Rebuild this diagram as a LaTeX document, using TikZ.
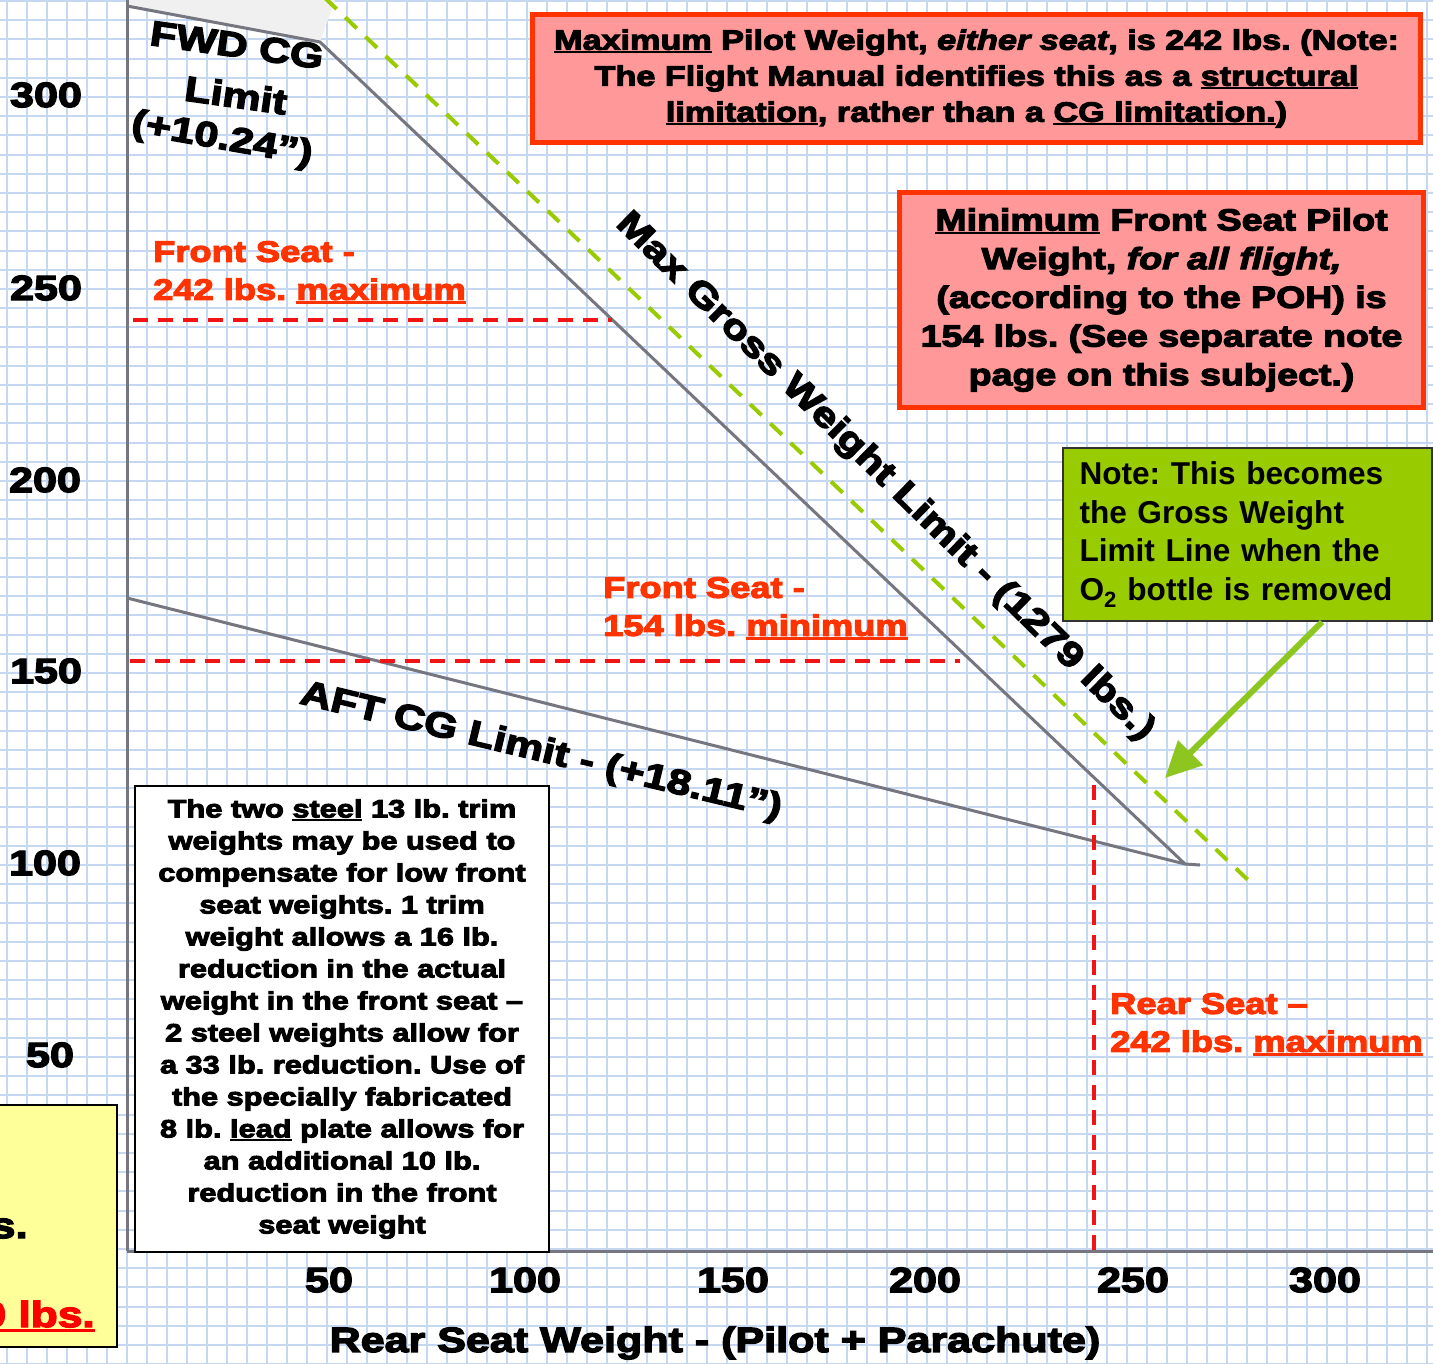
\documentclass[tikz,border=0pt]{standalone}
\usepackage{fontspec}
\usetikzlibrary{arrows.meta,calc}
\newfontfamily\blk{Liberation Sans}[UprightFont={* Bold},ItalicFont={* Bold Italic},FakeStretch=1.23,FakeBold=4]
\newfontfamily\arl{Liberation Sans}
\newcommand\fsz[2]{\fontsize{#1}{#2}\selectfont}
\newsavebox\ulbox
\newcommand\ul[1]{\sbox\ulbox{#1}\rlap{\rule[-0.13em]{\wd\ulbox}{0.08em}}\usebox\ulbox}
\frenchspacing
\definecolor{gridc}{RGB}{198,215,242}
\definecolor{pencil}{RGB}{118,118,128}
\definecolor{redtxt}{RGB}{255,51,0}
\definecolor{dashred}{RGB}{240,20,20}
\definecolor{pinkf}{RGB}{255,153,153}
\definecolor{boxred}{RGB}{255,51,0}
\definecolor{lime}{RGB}{153,204,0}
\definecolor{arrowg}{RGB}{140,198,30}
\definecolor{yel}{RGB}{255,255,153}
\tikzset{
  gridline/.style={draw=gridc, line width=2pt},
  pencilline/.style={draw=pencil, line width=3pt, line join=round},
  reddash/.style={draw=dashred, line width=3.5pt, dash pattern=on 15pt off 10pt},
  greendash/.style={draw=lime, line width=4pt, dash pattern=on 16pt off 12pt},
  pinkbox/.style={draw=boxred, line width=5pt, fill=pinkf, inner sep=0pt, align=center, text=black},
  whitebox/.style={draw=black, line width=2pt, fill=white, inner sep=0pt, align=center},
  notebox/.style={draw=black!80, line width=2pt, fill=lime, inner sep=0pt, align=left},
  axlabel/.style={inner sep=0pt, font=\blk\fsz{35}{40}},
  redlabel/.style={inner sep=0pt, align=left, text=redtxt, font=\blk\fsz{29.5}{38}},
  curvelabel/.style={inner sep=0pt, font=\blk\fsz{35}{40}},
  greenarrow/.style={draw=arrowg, line width=6pt, -{Triangle[length=36pt,width=34pt]}}
}
\begin{document}
\begin{tikzpicture}[x=1pt,y=-1pt]
\useasboundingbox (0,0) rectangle (1433,1364);
\begin{scope}
\clip (0,0) rectangle (1433,1364);
\fill[white] (0,0) rectangle (1433,1364);
% graph paper
\foreach \k in {-6,...,66} { \draw[gridline] ({127+20*\k},0) -- ({127+20*\k},1364); }
\foreach \k in {-6,...,66} { \draw[gridline] (0,{1249-19.2*\k}) -- (1433,{1249-19.2*\k}); }
% pencil shading near top
\fill[gray!12] (127,0) -- (335,0) -- (320,42) -- (127,6) -- cycle;
% axes
\draw[pencilline] (127,0) -- (127,1251);
\draw[pencilline] (127,1251) -- (1433,1251);
% limit lines
\draw[pencilline] (127,6) -- (320,42) -- (1185,864);
\draw[pencilline] (127,598) -- (1185,864) -- (1200,865);
% green dashed line (O2 removed)
\draw[greendash] (325,-2) -- (1248,880);
% red dashed limits
\draw[reddash] (133,320) -- (612,320);
\draw[reddash] (130,661) -- (960,661);
\draw[reddash] (1094,785) -- (1094,1250);

% axis labels
\node[axlabel] (y300) at (46,95) {300};
\node[axlabel] (y250) at (46,288) {250};
\node[axlabel] (y200) at (45,480) {200};
\node[axlabel] (y150) at (46,671) {150};
\node[axlabel] (y100) at (45,863) {100};
\node[axlabel] (y50) at (50,1055) {50};
\node[axlabel] (x50) at (329,1280) {50};
\node[axlabel] (x100) at (525,1280) {100};
\node[axlabel] (x150) at (733,1280) {150};
\node[axlabel] (x200) at (925,1280) {200};
\node[axlabel] (x250) at (1133,1280) {250};
\node[axlabel] (x300) at (1325,1280) {300};
\node[inner sep=0pt, font=\blk\fsz{35}{40}] (xtitle) at (715,1343) {Rear Seat Weight - (Pilot + Parachute)};

% curve labels
\node[curvelabel, rotate=-8] (fwd1) at (237,45) {FWD CG};
\node[curvelabel, rotate=-8] (fwd2) at (236,95) {Limit};
\node[curvelabel, rotate=-10] (fwd3) at (222,140) {(+10.24”)};
\node[curvelabel, rotate=-44.4] (gross) at (885,477) {Max Gross Weight Limit - (1279 lbs.)};
\node[curvelabel, rotate=-13.5] (aft) at (541,752) {AFT CG Limit - (+18.11”)};

% red annotations
\node[redlabel, anchor=north west] (front242) at (153,241) {Front Seat -\\242 lbs. \ul{maximum}};
\node[redlabel, anchor=north west] (front154) at (603,577) {Front Seat -\\154 lbs. \ul{minimum}};
\node[redlabel, anchor=north west] (rear242) at (1110,993) {Rear Seat –\\242 lbs. \ul{maximum}};

% boxes
\node[pinkbox, minimum width=888pt, minimum height=128pt, font=\blk\fsz{27.8}{36}] (maxbox) at (976.5,78.5)
  {\ul{Maximum} Pilot Weight, \textit{either seat}, is 242 lbs. (Note:\\
   The Flight Manual identifies this as a \ul{structural}\\
   \ul{limitation}, rather than a \ul{CG limitation.})};
\node[pinkbox, minimum width=524pt, minimum height=215pt, font=\blk\fsz{30.5}{38.7}] (minbox) at (1161.5,300)
  {\ul{Minimum} Front Seat Pilot\\
   Weight, \textit{for all flight,}\\
   (according to the POH) is\\
   154 lbs. (See separate note\\
   page on this subject.)};
\node[notebox, text width=335pt, minimum width=369pt, minimum height=173pt, font=\arl\bfseries\fsz{31.6}{38.5}] (note) at (1247,534.5)
  {Note: This becomes\\
   the Gross Weight\\
   Limit Line when the\\
   O\textsubscript{2} bottle is removed};
\node[whitebox, minimum width=414pt, minimum height=466pt, font=\blk\fsz{25}{32}] (trim) at (342,1019)
  {The two \ul{steel} 13 lb. trim\\
   weights may be used to\\
   compensate for low front\\
   seat weights. 1 trim\\
   weight allows a 16 lb.\\
   reduction in the actual\\
   weight in the front seat –\\
   2 steel weights allow for\\
   a 33 lb. reduction. Use of\\
   the specially fabricated\\
   8 lb. \ul{lead} plate allows for\\
   an additional 10 lb.\\
   reduction in the front\\
   seat weight};
\node[draw=black, line width=2pt, fill=yel, minimum width=160pt, minimum height=242pt, inner sep=0pt] (yelbox) at (37,1226) {};
\node[inner sep=0pt, anchor=base east, font=\blk\fsz{36}{40}] (yels) at (28,1238) {s.};
\node[inner sep=0pt, anchor=base east, text=red, font=\blk\fsz{36}{40}] (yellbs) at (95,1327) {\ul{0 lbs.}};

% arrow from note to the green line
\coordinate (o2tip) at (1165,778);
\draw[greenarrow] ($(note.south)+(75,0)$) -- (o2tip);
\end{scope}
\end{tikzpicture}
\end{document}
